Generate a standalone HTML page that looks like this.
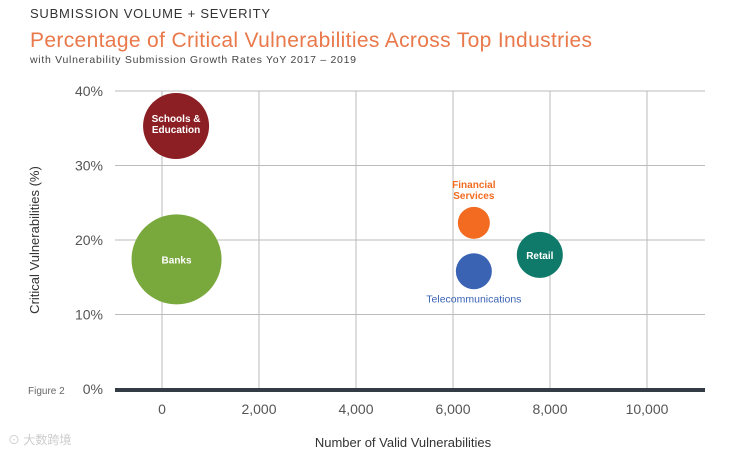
<!DOCTYPE html>
<html><head><meta charset="utf-8"><style>
body{margin:0;width:730px;height:456px;background:#fff;font-family:"Liberation Sans","Noto Sans CJK SC",sans-serif;overflow:hidden}
</style></head><body>
<svg id="c" width="730" height="456">
<text x="30" y="18" font-size="13" fill="#333" textLength="240">SUBMISSION VOLUME + SEVERITY</text>
<text x="30" y="47" font-size="21" fill="#e9784a" textLength="562">Percentage of Critical Vulnerabilities Across Top Industries</text>
<text x="30" y="63" font-size="10.5" fill="#444" textLength="326">with Vulnerability Submission Growth Rates YoY 2017 – 2019</text>
<text x="28" y="394" font-size="10" fill="#666">Figure 2</text>
<text x="403" y="447" font-size="13" fill="#333" text-anchor="middle">Number of Valid Vulnerabilities</text>
<text transform="translate(39,240) rotate(-90)" font-size="13" fill="#333" text-anchor="middle">Critical Vulnerabilities (%)</text>
<text x="8" y="444" font-size="12" fill="#ccc">⊙ 大数跨境</text>
<g id="grid"></g><g id="marks"></g>
</svg>
<script>
const xTicks=[0,2000,4000,6000,8000,10000];
const yTicks=[0,10,20,30,40];
const names=["Schools & Education","Banks","Financial Services","Telecommunications","Retail"];
const xVals=[290,300,6430,6430,7790];
const yVals=[35.3,17.4,22.3,15.8,18.0];
const sizes=[33,45,16,18,23];
const colors=["#8b1f23","#79a83c","#f26b21","#3a63b4","#0f7a6a"];
const NS="http://www.w3.org/2000/svg";
const X=v=>162+v*0.0485, Y=v=>389-v*7.45;
function mk(t,a,p){const e=document.createElementNS(NS,t);for(const k in a)e.setAttribute(k,a[k]);p.appendChild(e);return e;}
const g=document.getElementById('grid'),m=document.getElementById('marks');
xTicks.forEach(t=>{const l=mk('line',{x1:X(t),x2:X(t),y1:91,y2:389,stroke:'#bbb','stroke-width':1},g);


const tx=mk('text',{x:X(t),y:414,'font-size':14,fill:'#555','text-anchor':'middle'},g);tx.textContent=t.toLocaleString('en-US');

});
yTicks.forEach(t=>{if(t>0){const l=mk('line',{x1:115,x2:705,y1:Y(t),y2:Y(t),stroke:'#bbb','stroke-width':1},g);

}
const tx=mk('text',{x:103,y:Y(t)+5,'font-size':14,fill:'#555','text-anchor':'end'},g);tx.textContent=t+'%';

});
const ax=mk('line',{x1:115,x2:705,y1:390,y2:390,stroke:'#333c44','stroke-width':4},g);


names.forEach((n,i)=>{const cx=X(xVals[i]),cy=Y(yVals[i]),r=sizes[i];
const c=mk('circle',{cx,cy,r,fill:colors[i]},m);


let lines,ly,fill,fw='bold';
if(i===0){lines=['Schools &','Education'];ly=cy-4;fill='#fff';}
else if(i===1){lines=['Banks'];ly=cy+4;fill='#fff';}
else if(i===2){lines=['Financial','Services'];ly=cy-35;fill=colors[i];}
else if(i===3){lines=['Telecommunications'];ly=cy+31;fill=colors[i];fw='normal';}
else {lines=['Retail'];ly=cy+4;fill='#fff';}
lines.forEach((s,k)=>{const t=mk('text',{x:cx,y:ly+k*11,'font-size':i===3?10.5:10,fill,'font-weight':fw,'text-anchor':'middle'},m);t.textContent=s;

});});
</script>
</body></html>
